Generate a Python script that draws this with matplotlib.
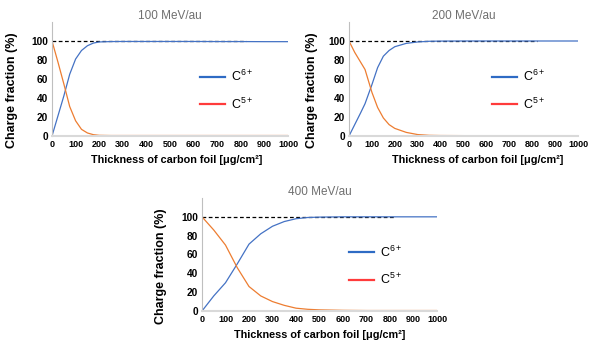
import matplotlib.pyplot as plt
from matplotlib.lines import Line2D

plt.rcParams['font.family'] = ['Liberation Sans', 'DejaVu Sans']
plt.rcParams['mathtext.fontset'] = 'custom'
plt.rcParams['mathtext.rm'] = 'Liberation Sans'
plt.rcParams['mathtext.it'] = 'Liberation Sans'

# 100 MeV/au
x_100 = [0, 25, 50, 75, 100, 125, 150, 175, 200, 250, 300, 400, 500, 600, 700, 800, 900, 1000]
c6_100 = [0, 21, 42, 65, 81, 90, 95, 97.8, 99, 99.4, 99.5, 99.5, 99.5, 99.5, 99.4, 99.4, 99.3, 99.3]
c5_100 = [100, 78, 55, 31, 16, 7, 3.2, 1.4, 0.7, 0.5, 0.5, 0.5, 0.5, 0.5, 0.5, 0.5, 0.5, 0.5]

# 200 MeV/au
x_200 = [0, 25, 50, 70, 100, 125, 150, 175, 200, 250, 300, 350, 400, 500, 600, 700, 800, 900, 1000]
c6_200 = [0, 12, 24, 34, 54, 72, 84, 90, 94, 97.5, 99, 99.7, 99.9, 100, 100, 100, 100, 100, 100]
c5_200 = [100, 88, 78, 70, 46, 30, 19, 12, 8, 3.8, 1.5, 0.7, 0.5, 0.4, 0.4, 0.4, 0.4, 0.4, 0.4]

# 400 MeV/au
x_400 = [0, 50, 100, 150, 200, 250, 300, 350, 400, 450, 500, 600, 700, 800, 900, 1000]
c6_400 = [0, 16, 30, 50, 71, 82, 90, 95, 98, 99.3, 99.7, 100, 100, 100, 100, 100]
c5_400 = [100, 86, 70, 46, 26, 16, 10, 6, 3, 1.8, 1.2, 0.7, 0.5, 0.5, 0.5, 0.5]

ref_x = [0, 820]
ref_y = [100, 100]

# title, x, C6+, C5+, axes rect, ylabel x, xlabel x
panels = [
    ('100 MeV/au', x_100, c6_100, c5_100, [52/596, 1 - 136/343, 236/596, 114/343], -0.145, 0.53),
    ('200 MeV/au', x_200, c6_200, c5_200, [349/596, 1 - 136/343, 229/596, 114/343], -0.135, 0.56),
    ('400 MeV/au', x_400, c6_400, c5_400, [202/596, 1 - 311/343, 235/596, 113/343], -0.15, 0.5),
]

fig = plt.figure(figsize=(5.96, 3.43), dpi=100)

for title, x, c6, c5, rect, ylx, xlx in panels:
    ax = fig.add_axes(rect)
    ax.plot(ref_x, ref_y, color='black', lw=0.9, linestyle=(0, (3, 2)))
    ax.plot(x, c6, color='#4472C4', lw=0.9)
    ax.plot(x, c5, color='#ED7D31', lw=0.9)
    ax.set_xlim(0, 1000)
    ax.set_ylim(0, 120)
    ax.set_xticks(range(0, 1001, 100))
    ax.set_yticks(range(0, 101, 20))
    ax.tick_params(length=0, pad=3)
    for lab in ax.get_xticklabels():
        lab.set_fontsize(6.5)
        lab.set_fontweight('bold')
    for lab in ax.get_yticklabels():
        lab.set_fontsize(7.3)
        lab.set_fontweight('bold')
    for s in ['top', 'right']:
        ax.spines[s].set_visible(False)
    ax.spines['left'].set_color('#BFBFBF')
    ax.spines['left'].set_linewidth(0.8)
    ax.spines['bottom'].set_color('#D9D9D9')
    ax.spines['bottom'].set_linewidth(1.5)
    ax.set_title(title, fontsize=8.5, color='#6F6F6F', pad=1)
    ax.set_xlabel('Thickness of carbon foil [μg/cm²]', fontsize=7.8, fontweight='bold')
    ax.xaxis.set_label_coords(xlx, -0.17)
    ax.set_ylabel('Charge fraction (%)', fontsize=9, fontweight='bold')
    ax.yaxis.set_label_coords(ylx, 0.4)
    handles = [Line2D([], [], color='#2E6BC4', lw=1.6),
               Line2D([], [], color='#FF3B3B', lw=1.6)]
    ax.legend(handles, [r'C$^{\mathrm{6+}}$', r'C$^{\mathrm{5+}}$'], frameon=False,
              loc='upper left', bbox_to_anchor=(0.625, 0.59), fontsize=9,
              borderpad=0, borderaxespad=0, handlelength=2.0, handletextpad=0.5,
              labelspacing=1.0)

fig.savefig('out.png', dpi=100)
